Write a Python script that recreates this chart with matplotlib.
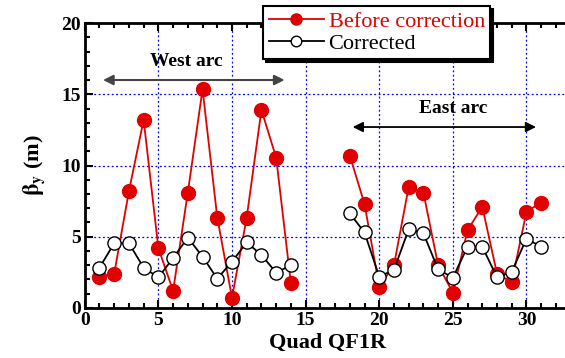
import matplotlib
matplotlib.use("Agg")
import matplotlib.pyplot as plt
from matplotlib.ticker import MultipleLocator

plt.rcParams['font.family'] = ['Liberation Serif', 'DejaVu Serif']
plt.rcParams['mathtext.fontset'] = 'stix'

quad_west = [1, 2, 3, 4, 5, 6, 7, 8, 9, 10, 11, 12, 13, 14]
before_west = [2.2, 2.4, 8.2, 13.2, 4.2, 1.2, 8.1, 15.35, 6.35, 0.72, 6.35, 13.9, 10.55, 1.73]
corr_west = [2.83, 4.54, 4.54, 2.83, 2.15, 3.5, 4.94, 3.6, 2.06, 3.25, 4.6, 3.72, 2.48, 3.0]

quad_east = [18, 19, 20, 21, 22, 23, 24, 25, 26, 27, 28, 29, 30, 31]
before_east = [10.7, 7.3, 1.5, 3.0, 8.5, 8.1, 3.0, 1.08, 5.47, 7.1, 2.4, 1.82, 6.76, 7.4]
corr_east = [6.64, 5.3, 2.2, 2.67, 5.52, 5.24, 2.71, 2.13, 4.3, 4.3, 2.15, 2.55, 4.86, 4.3]

xticks = [0, 5, 10, 15, 20, 25, 30]
yticks = [0, 5, 10, 15, 20]

fig = plt.figure(figsize=(5.65, 3.58), dpi=100)
ax = fig.add_axes([0.150, 0.1397, 0.860, 0.796])

red = '#e00000'
for qx, b, c, lab in [(quad_west, before_west, corr_west, True), (quad_east, before_east, corr_east, False)]:
    ax.plot(qx, b, '-o', color=red, lw=1.3, ms=10, mfc=red, mec=red,
            label='Before correction' if lab else None, zorder=3)
    ax.plot(qx, c, '-o', color='black', lw=1.3, ms=9.5, mfc='white', mec='black', mew=1.0,
            label='Corrected' if lab else None, zorder=4)

ax.set_xlim(0, 33)
ax.set_ylim(0, 20)
ax.set_xticks(xticks)
ax.set_yticks(yticks)
ax.xaxis.set_minor_locator(MultipleLocator(1))
ax.yaxis.set_minor_locator(MultipleLocator(1))
ax.tick_params(which='both', direction='in', top=True, right=False, width=1.5)
ax.tick_params(which='major', length=6, labelsize=14, pad=3)
ax.tick_params(which='minor', length=3.5)
for lbl in ax.get_xticklabels() + ax.get_yticklabels():
    lbl.set_fontweight('bold')
for s in ax.spines.values():
    s.set_linewidth(2)
ax.spines['right'].set_visible(False)

ax.grid(True, which='major', color='blue', ls=(0, (1.5, 2)), lw=0.9)
ax.set_axisbelow(True)

ax.set_xlabel('Quad QF1R', fontsize=16, fontweight='bold', labelpad=3)
ax.set_ylabel(r'$\mathbf{\beta}_\mathbf{y}$ (m)', fontsize=16, fontweight='bold', labelpad=10)

# arcs
ax.annotate('', xy=(1.24, 16.0), xytext=(13.57, 16.0),
            arrowprops=dict(arrowstyle='<|-|>', color='#444444', lw=1.5, mutation_scale=15, shrinkA=0, shrinkB=0))
ax.text(6.9, 17.3, 'West arc', fontsize=14, fontweight='bold', ha='center', va='center')
ax.annotate('', xy=(18.2, 12.7), xytext=(30.65, 12.7),
            arrowprops=dict(arrowstyle='<|-|>', color='black', lw=1.3, mutation_scale=15, shrinkA=0, shrinkB=0))
ax.text(25.0, 14.0, 'East arc', fontsize=14, fontweight='bold', ha='center', va='center')

leg = ax.legend(loc='upper left', bbox_to_anchor=(263/565, 1 - 6/358), bbox_transform=fig.transFigure,
                prop={'family': 'Liberation Serif', 'size': 16}, frameon=True, fancybox=False,
                shadow={'color': 'black', 'alpha': 1},
                borderpad=0.25, handlelength=2.5, handletextpad=0.2, labelspacing=0.05,
                borderaxespad=0, markerscale=0.8)
leg.get_frame().set_edgecolor('black')
leg.get_frame().set_linewidth(1.5)
leg.get_frame().set_alpha(1)
leg.texts[0].set_color(red)

fig.savefig('out.png', dpi=100)
